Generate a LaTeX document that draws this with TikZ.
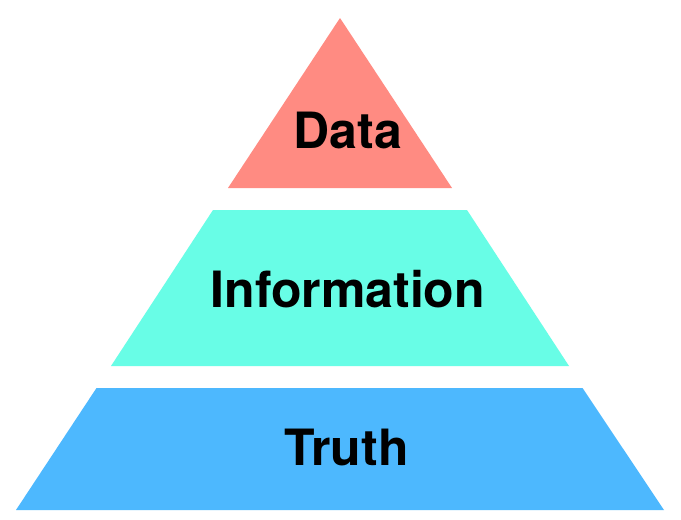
\documentclass[tikz,border=0pt]{standalone}
\usepackage{fontspec}
\setmainfont{TeX Gyre Heros}
\definecolor{topred}{HTML}{FF8B82}
\definecolor{midcyan}{HTML}{68FDE6}
\definecolor{botblue}{HTML}{4DB8FE}
\begin{document}
\begin{tikzpicture}[x=1pt,y=-1pt,
  layer/.style={fill=#1,draw=none},
  label/.style={anchor=base,inner sep=0pt,font=\fontsize{50}{58}\selectfont\bfseries,text=black}]
\useasboundingbox (0,0) rectangle (681,520);
\fill[white] (0,0) rectangle (681,520);
\path[layer=topred] (340,18) -- (452,188) -- (228,188) -- cycle;
\path[layer=midcyan] (213,210) -- (467,210) -- (569,366) -- (111,366) -- cycle;
\path[layer=botblue] (96.5,388) -- (582.5,388) -- (664,510) -- (16,510) -- cycle;
\node[label] (data) at (347.5,148) {Data};
\node[label] (info) at (347.8,307) {Information};
\node[label] (truth) at (346.5,465) {Truth};
\end{tikzpicture}
\end{document}
